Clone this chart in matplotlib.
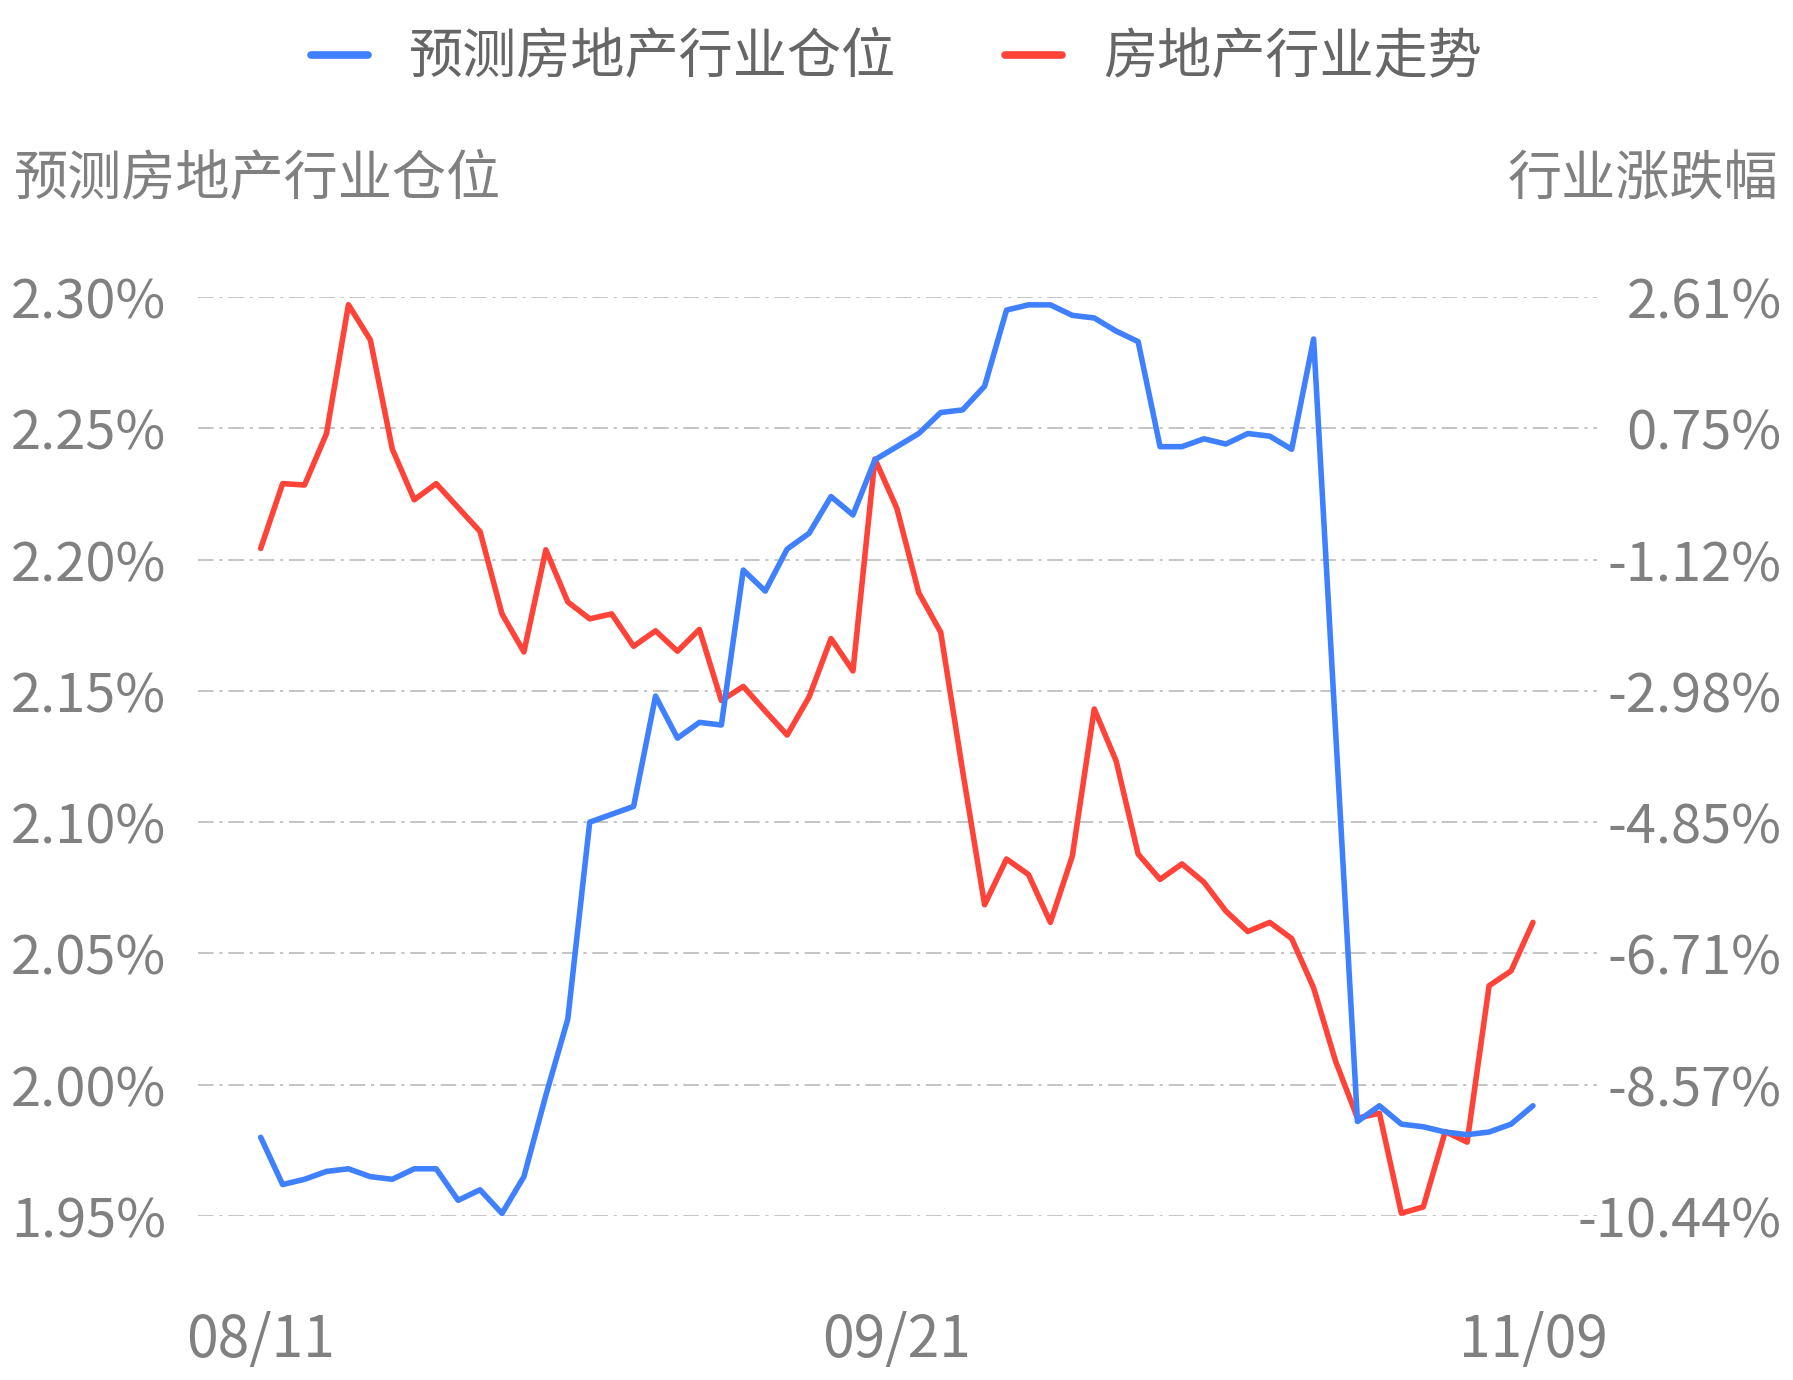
import numpy as np
import matplotlib
matplotlib.use("Agg")
import matplotlib.pyplot as plt

plt.rcParams['font.family'] = ['Noto Sans CJK SC', 'DejaVu Sans']
plt.rcParams['axes.unicode_minus'] = False

# data
position = [1.980, 1.962, 1.964, 1.967, 1.968, 1.965, 1.964, 1.968, 1.968, 1.956,
            1.960, 1.951, 1.965, 1.996, 2.025, 2.100, 2.103, 2.106, 2.148, 2.132,
            2.138, 2.137, 2.196, 2.188, 2.204, 2.210, 2.224, 2.217, 2.238, 2.243,
            2.248, 2.256, 2.257, 2.266, 2.295, 2.297, 2.297, 2.293, 2.292, 2.287,
            2.283, 2.243, 2.243, 2.246, 2.244, 2.248, 2.247, 2.242, 2.284, 2.135,
            1.986, 1.992, 1.985, 1.984, 1.982, 1.981, 1.982, 1.985, 1.992]
trend = [-0.96, -0.04, -0.06, 0.67, 2.50, 2.00, 0.45, -0.27, -0.04, -0.38,
         -0.72, -1.89, -2.43, -0.98, -1.72, -1.96, -1.89, -2.35, -2.13, -2.42,
         -2.11, -3.12, -2.92, -3.27, -3.61, -3.07, -2.24, -2.70, 0.31, -0.39,
         -1.59, -2.15, -4.12, -6.02, -5.37, -5.59, -6.27, -5.33, -3.24, -3.98,
         -5.30, -5.66, -5.44, -5.70, -6.11, -6.40, -6.27, -6.50, -7.20, -8.24,
         -9.05, -8.98, -10.40, -10.31, -9.24, -9.39, -7.17, -6.96, -6.27]
x_ticks = [0, 29, 58]
x_labels = ['08/11', '09/21', '11/09']
left_ticks = [1.95, 2.00, 2.05, 2.10, 2.15, 2.20, 2.25, 2.30]
right_labels = ['-10.44%', '-8.57%', '-6.71%', '-4.85%', '-2.98%', '-1.12%', '0.75%', '2.61%']

blue = '#3F80FF'
red = '#FF4338'
gray = '#808080'
fs = 39

fig = plt.figure(figsize=(17.93, 13.80), dpi=100)
ax = fig.add_axes([0.1104, 0.1188, 0.7803, 0.666])
ax2 = ax.twinx()
ax2.set_zorder(1)
ax.set_zorder(2)
ax.patch.set_visible(False)

x = np.arange(len(position))
l1, = ax.plot(x, position, color=blue, lw=4.0, solid_joinstyle='round', solid_capstyle='round')
l2, = ax2.plot(x, trend, color=red, lw=4.0, solid_joinstyle='round', solid_capstyle='round')

ax.set_xlim(-2.86, 60.92)
ax.set_ylim(1.95, 2.30)
ax.set_yticks(left_ticks)
ax.set_yticklabels(['%.2f%%' % v for v in left_ticks])
ax2.set_ylim(-10.44, 2.61)
ax2.set_yticks(np.linspace(-10.44, 2.61, len(right_labels)))
ax2.set_yticklabels(right_labels)
ax.set_xticks(x_ticks)
ax.set_xticklabels(x_labels)

ax2.grid(axis='y', color='#c4c4c4', linewidth=1.4, linestyle=(0, (8, 3, 1.6, 3)))
for a in (ax, ax2):
    for s in a.spines.values():
        s.set_visible(False)
    a.tick_params(length=0, labelsize=fs, labelcolor=gray)
ax.tick_params(axis='y', pad=23)
ax.tick_params(axis='x', pad=69, labelsize=41)
ax2.tick_params(axis='y', pad=133)
for lab in ax2.get_yticklabels():
    lab.set_horizontalalignment('right')

fig.text(14 / 1793, 1 - 180 / 1380, '预测房地产行业仓位', fontsize=fs, color=gray, ha='left', va='center')
fig.text(1778 / 1793, 1 - 180 / 1380, '行业涨跌幅', fontsize=fs, color=gray, ha='right', va='center')

leg = fig.legend([l1, l2], ['预测房地产行业仓位', '房地产行业走势'], loc='center',
                 bbox_to_anchor=(0.5, 1 - 58 / 1380), ncol=2, frameon=False, fontsize=fs,
                 handlelength=1.05, handletextpad=0.76, columnspacing=2.0)
for t in leg.get_texts():
    t.set_color('#666666')
for h in leg.get_lines():
    h.set_linewidth(5.5)

fig.savefig('out.png', dpi=100)
